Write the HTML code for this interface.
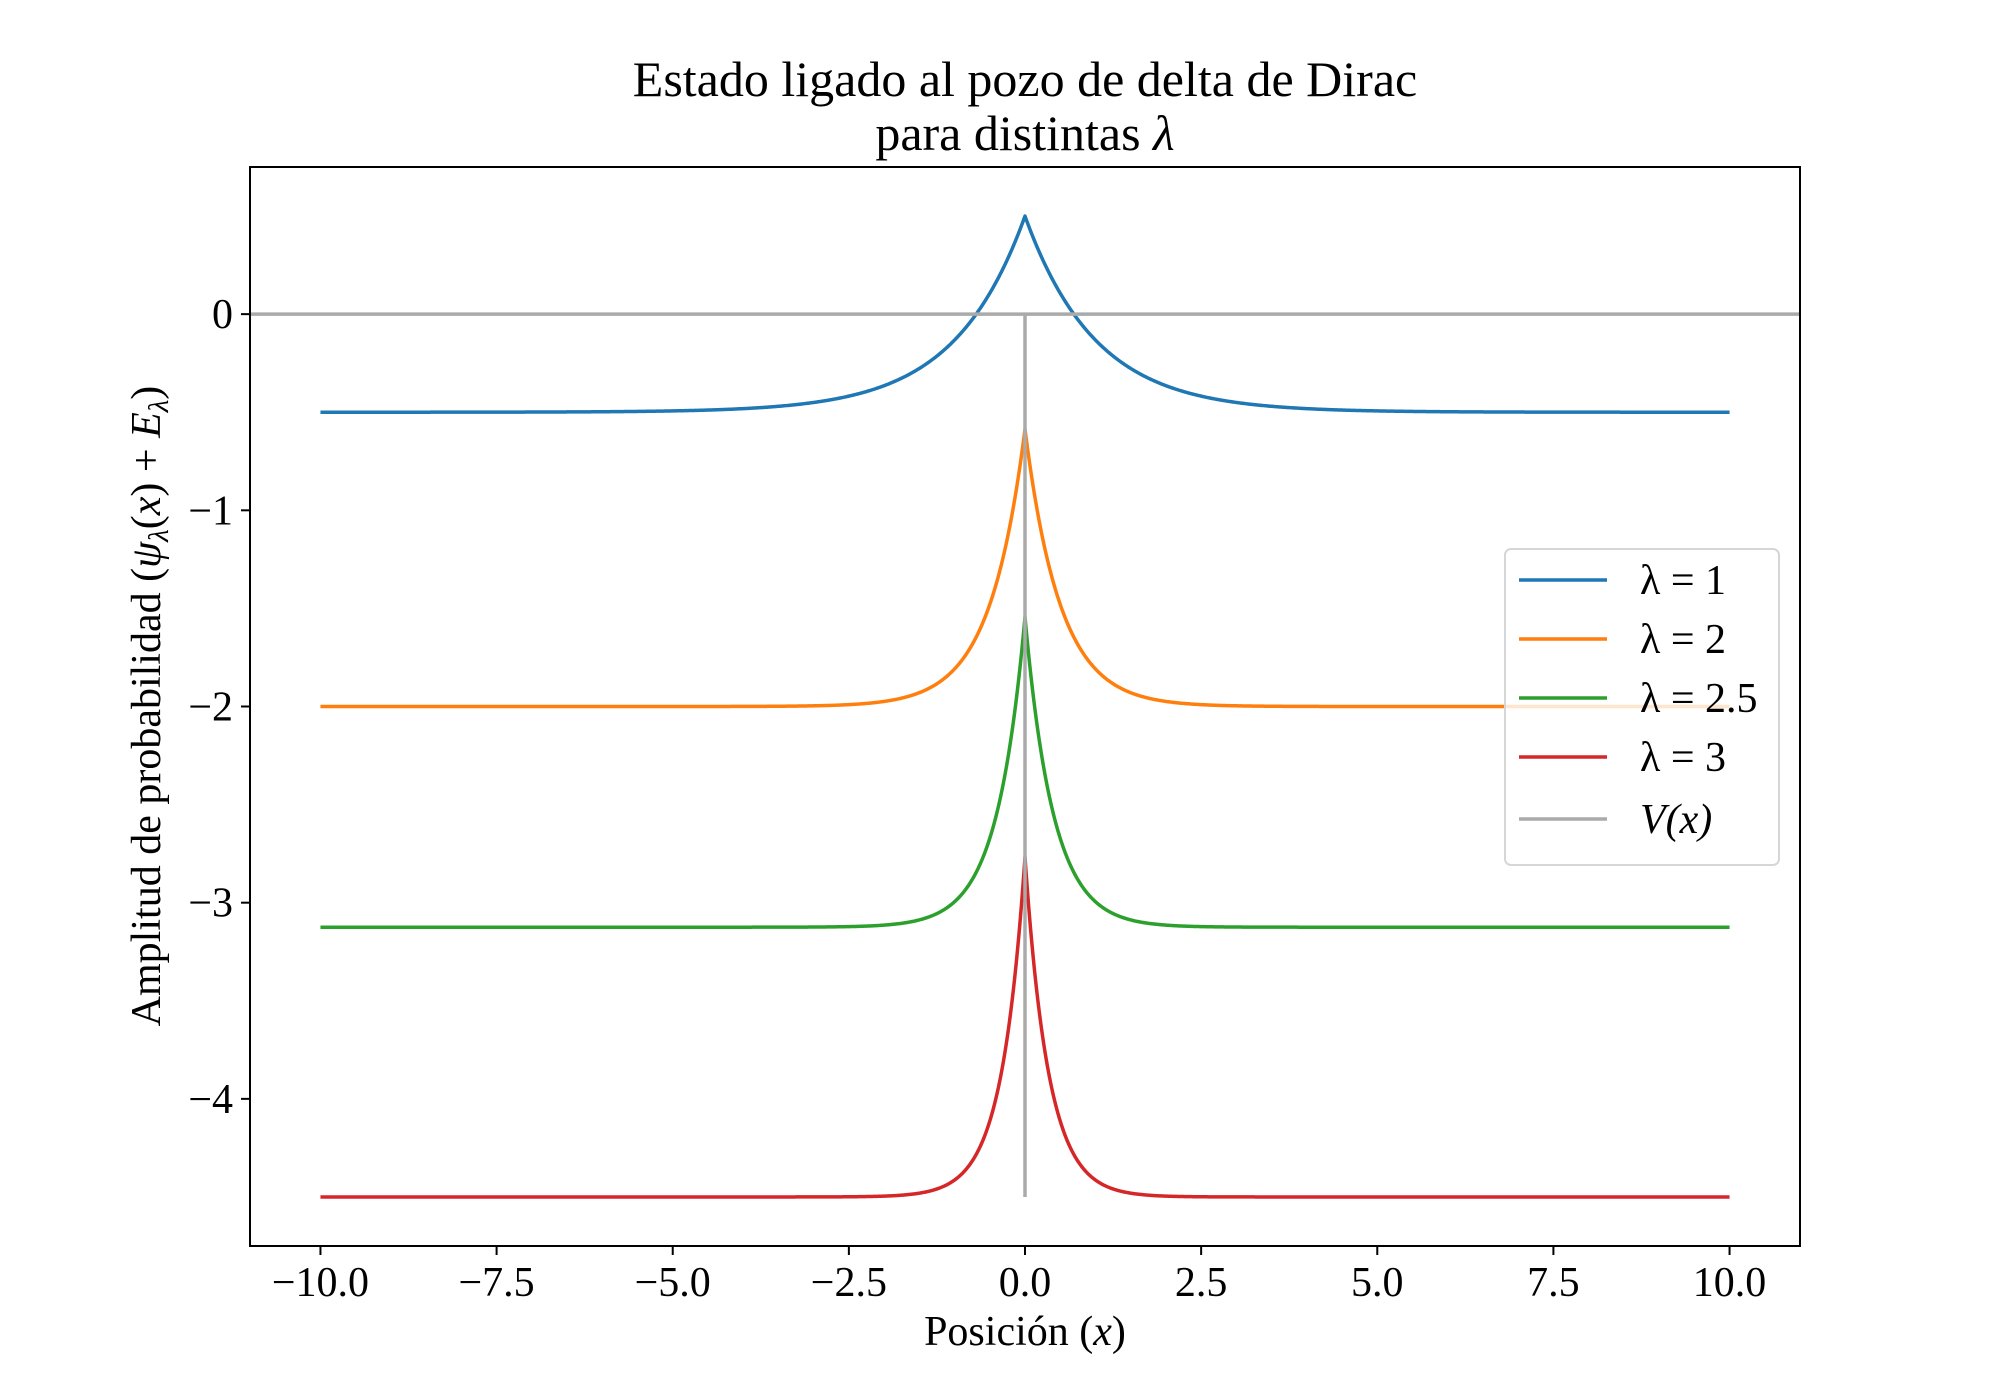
<!DOCTYPE html>
<html><head><meta charset="utf-8"><style>
html,body{margin:0;padding:0;background:#fff;}
svg{display:block;font-family:"Liberation Serif","DejaVu Serif",serif;}
</style></head><body>
<svg id="chart" width="2000" height="1400" viewBox="0 0 2000 1400">
<rect x="0" y="0" width="2000" height="1400" fill="#fff"/>
<g id="title" font-size="50" text-anchor="middle">
<text x="1025" y="96">Estado ligado al pozo de delta de Dirac</text>
<text x="1025" y="150">para distintas <tspan font-style="italic">λ</tspan></text>
</g>
<g id="plot"></g>
<text x="1025" y="1345" font-size="42" text-anchor="middle">Posición (<tspan font-style="italic">x</tspan>)</text>
<text transform="translate(160,706) rotate(-90)" font-size="42" text-anchor="middle">Amplitud de probabilidad (<tspan font-style="italic">ψ</tspan><tspan font-style="italic" font-size="29" dy="8">λ</tspan><tspan dy="-8">(</tspan><tspan font-style="italic">x</tspan>)  +  <tspan font-style="italic">E</tspan><tspan font-style="italic" font-size="29" dy="8">λ</tspan><tspan dy="-8">)</tspan></text>
</svg>
<script>
const lambdas = [1, 2, 2.5, 3];
const energies = [-0.5, -2, -3.125, -4.5];
const amplitudes = [1, 1.4142, 1.5811, 1.7321];
const seriesColors = ["#1f77b4", "#ff7f0e", "#2ca02c", "#d62728"];
const seriesLabels = ["λ = 1", "λ = 2", "λ = 2.5", "λ = 3"];
const xTicks = [-10, -7.5, -5, -2.5, 0, 2.5, 5, 7.5, 10];
const xTickLabels = ["−10.0", "−7.5", "−5.0", "−2.5", "0.0", "2.5", "5.0", "7.5", "10.0"];
const yTicks = [0, -1, -2, -3, -4];
const yTickLabels = ["0", "−1", "−2", "−3", "−4"];
const xDomain = [-10, 10];
const potentialBottom = -4.5;

const L = 250, R = 1800, T = 167, B = 1246;
const xMin = -11, xMax = 11, yMin = -4.75, yMax = 0.75;
function sx(v){ return L + (v - xMin) / (xMax - xMin) * (R - L); }
function sy(v){ return B - (v - yMin) / (yMax - yMin) * (B - T); }
const NS = "http://www.w3.org/2000/svg";
const g = document.getElementById('plot');
function mk(tag, attrs){ const e = document.createElementNS(NS, tag); for (const k in attrs) e.setAttribute(k, attrs[k]); return e; }

for (let i = 0; i < lambdas.length; i++) {
  const lam = lambdas[i];
  let d = "";
  const n = 1200;
  for (let j = 0; j <= n; j++) {
    const x = xDomain[0] + (xDomain[1] - xDomain[0]) * j / n;
    const y = energies[i] + amplitudes[i] * Math.exp(-lam * Math.abs(x));
    d += (j ? "L" : "M") + sx(x).toFixed(2) + "," + sy(y).toFixed(2);
  }
  const p = mk('path', {d: d, fill: 'none', stroke: seriesColors[i], 'stroke-width': 3.5, 'stroke-linejoin': 'round'});
  
  
  g.appendChild(p);
}
const vh = mk('line', {x1: L, x2: R, y1: sy(0), y2: sy(0), stroke: '#aaaaaa', 'stroke-width': 3.5});


g.appendChild(vh);
const vv = mk('line', {x1: sx(0), x2: sx(0), y1: sy(0), y2: sy(potentialBottom), stroke: '#aaaaaa', 'stroke-width': 3.5});


g.appendChild(vv);

const fr = mk('rect', {x: L, y: T, width: R - L, height: B - T, fill: 'none', stroke: '#000', 'stroke-width': 2});


g.appendChild(fr);

for (let i = 0; i < xTicks.length; i++) {
  const x = sx(xTicks[i]);
  const t = mk('line', {x1: x, x2: x, y1: B, y2: B + 9, stroke: '#000', 'stroke-width': 2});
  
  
  g.appendChild(t);
  const tx = mk('text', {x: x, y: B + 50, 'font-size': 42, 'text-anchor': 'middle'});
  tx.textContent = xTickLabels[i];
  
  
  g.appendChild(tx);
}
for (let i = 0; i < yTicks.length; i++) {
  const y = sy(yTicks[i]);
  const t = mk('line', {x1: L - 9, x2: L, y1: y, y2: y, stroke: '#000', 'stroke-width': 2});
  
  
  g.appendChild(t);
  const tx = mk('text', {x: L - 17, y: y + 14, 'font-size': 42, 'text-anchor': 'end'});
  tx.textContent = yTickLabels[i];
  
  
  g.appendChild(tx);
}

const lg = mk('g', {});


g.appendChild(lg);
const box = mk('rect', {x: 1505, y: 549, width: 274, height: 316, rx: 6, fill: 'rgba(255,255,255,0.8)', stroke: '#d6d6d6', 'stroke-width': 2});


lg.appendChild(box);
const rowsY = [580, 639, 698, 757, 819];
const allColors = seriesColors.concat(['#aaaaaa']);
const allLabels = seriesLabels.concat(['V(x)']);
for (let i = 0; i < allLabels.length; i++) {
  const ln = mk('line', {x1: 1519, x2: 1607, y1: rowsY[i], y2: rowsY[i], stroke: allColors[i], 'stroke-width': 3.5});
  
  
  lg.appendChild(ln);
  const tx = mk('text', {x: 1640, y: rowsY[i] + 14, 'font-size': 42, 'font-style': i === 4 ? 'italic' : 'normal'});
  tx.textContent = allLabels[i];
  
  
  lg.appendChild(tx);
}
</script>
</body></html>
